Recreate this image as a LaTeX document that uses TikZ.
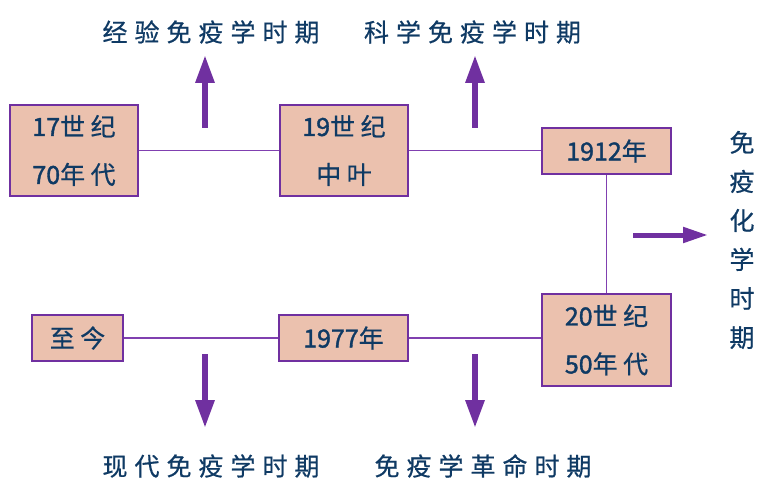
\documentclass[tikz,border=0pt]{standalone}
\usepackage{fontspec}
\setmainfont{Noto Sans CJK SC}
\newfontfamily\labfont[LetterSpace=28,FakeBold=0.6]{Noto Sans CJK SC}
\newfontfamily\boxfont[LetterSpace=22,FakeBold=0.6]{Noto Sans CJK SC}
\newfontfamily\plainfont[FakeBold=0.6]{Noto Sans CJK SC}
\newfontfamily\numfont[FakeBold=1.4]{Noto Sans CJK SC}
\usetikzlibrary{arrows.meta}
\definecolor{boxfill}{RGB}{235,193,174}
\definecolor{boxedge}{RGB}{112,48,160}
\definecolor{linecol}{RGB}{128,64,176}
\definecolor{txt}{RGB}{15,58,100}
\tikzset{
  period/.style={draw=boxedge, line width=1.6pt, fill=boxfill, text=txt, inner sep=0pt,
    align=center, font=\boxfont\fontsize{25}{48}\selectfont},
  link/.style={draw=linecol, line width=1.6pt},
  bigarrow/.style={draw=boxedge, line width=6pt, -{Triangle[width=18pt,length=28pt]}},
  sidearrow/.style={draw=boxedge, line width=5pt, -{Triangle[width=15pt,length=25pt]}},
  label/.style={text=txt, inner sep=0pt, font=\labfont\fontsize{25}{30}\selectfont},
  vlabel/.style={text=txt, inner sep=0pt, align=center, font=\plainfont\fontsize{25}{39}\selectfont}
}
\begin{document}
\begin{tikzpicture}[x=1pt,y=-1pt]
\useasboundingbox (0,0) rectangle (777,492);
% boxes
\node[period, minimum width=128pt, minimum height=91pt] (b1) at (74,150.5) {{\numfont 17}世纪\\{\numfont 70}年代};
\node[period, minimum width=128pt, minimum height=91pt] (b2) at (344,150.5) {{\numfont 19}世纪\\中叶};
\node[period, minimum width=129pt, minimum height=46pt] (b3) at (606.5,151) {{\numfont 1912}年};
\node[period, minimum width=129pt, minimum height=92pt] (b4) at (606.5,340) {{\numfont 20}世纪\\{\numfont 50}年代};
\node[period, minimum width=91pt, minimum height=46pt] (b5) at (77.5,338) {至今};
\node[period, minimum width=129pt, minimum height=46pt] (b6) at (343.5,338) {{\numfont 1977}年};
% connectors
\draw[link] (b1.east) -- (b2.west);
\draw[link] (b2.east) -- (b2.east -| b3.west);
\draw[link] (b3.south) -- (b4.north);
\draw[link] (b5.east) -- (b6.west);
\draw[link] (b6.east) -- (b6.east -| b4.west);
% labels
\node[label] (l1) at (211,32) {经验免疫学时期};
\node[label] (l2) at (472.5,32) {科学免疫学时期};
\node[label] (l3) at (211,466) {现代免疫学时期};
\node[label] (l4) at (483,466) {免疫学革命时期};
\node[vlabel] (l5) at (742,240) {免\\疫\\化\\学\\时\\期};
% arrows
\coordinate (a1s) at (205,128); \coordinate (a1e) at (205,55);
\coordinate (a2s) at (475,128); \coordinate (a2e) at (475,55);
\coordinate (a3s) at (205,354); \coordinate (a3e) at (205,428);
\coordinate (a4s) at (475,354); \coordinate (a4e) at (475,428);
\coordinate (a5s) at (633,235); \coordinate (a5e) at (708,235);
\draw[bigarrow] (a1s) -- (a1e);
\draw[bigarrow] (a2s) -- (a2e);
\draw[bigarrow] (a3s) -- (a3e);
\draw[bigarrow] (a4s) -- (a4e);
\draw[sidearrow] (a5s) -- (a5e);
\end{tikzpicture}
\end{document}
